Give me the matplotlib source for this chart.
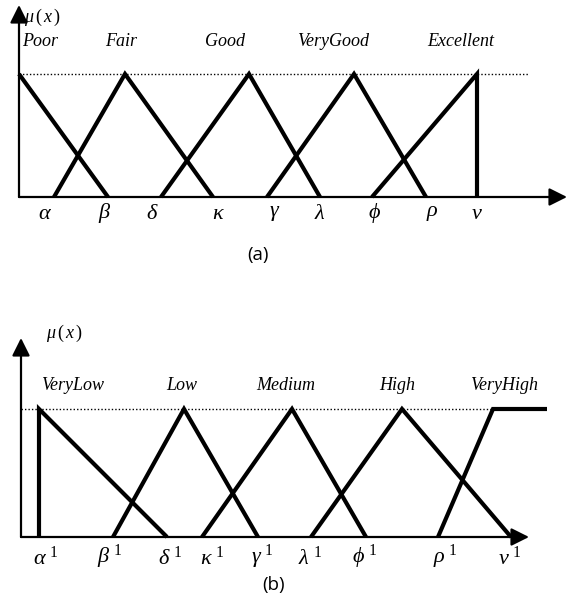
import matplotlib
matplotlib.use("Agg")
import matplotlib.pyplot as plt

plt.rcParams['mathtext.fontset'] = 'custom'
plt.rcParams['mathtext.rm'] = 'Liberation Serif'
plt.rcParams['mathtext.it'] = 'Liberation Serif:italic'
plt.rcParams['mathtext.bf'] = 'Liberation Serif:bold'

# ---------------- Panel (a) data ----------------
a_points = [r'\alpha', r'\beta', r'\delta', r'\kappa', r'\gamma',
            r'\lambda', r'\phi', r'\rho', r'\nu']
a_values = [35, 89, 142, 194, 248, 301, 353, 407, 458]
a_terms = ['Poor', 'Fair', 'Good', 'VeryGood', 'Excellent']
# membership functions: list of (x, mu) vertices
a_poor_x = [0, 89];            a_poor_y = [1, 0]
a_fair_x = [35, 106, 194];     a_fair_y = [0, 1, 0]
a_good_x = [142, 230, 301];    a_good_y = [0, 1, 0]
a_vgood_x = [248, 335, 407];   a_vgood_y = [0, 1, 0]
a_exc_x = [353, 458, 458];     a_exc_y = [0, 1, 0]

# ---------------- Panel (b) data ----------------
b_points = [r'\alpha', r'\beta', r'\delta', r'\kappa', r'\gamma',
            r'\lambda', r'\phi', r'\rho', r'\nu']
b_values = [18, 92, 146, 181, 237, 290, 345, 417, 490]
b_terms = ['VeryLow', 'Low', 'Medium', 'High', 'VeryHigh']
b_vlow_x = [18, 18, 146];      b_vlow_y = [0, 1, 0]
b_low_x = [92, 163, 237];      b_low_y = [0, 1, 0]
b_med_x = [181, 271, 345];     b_med_y = [0, 1, 0]
b_high_x = [290, 381, 490];    b_high_y = [0, 1, 0]
b_vhigh_x = [417, 472, 526];   b_vhigh_y = [0, 1, 1]

W, H = 568, 602
fig = plt.figure(figsize=(W / 100, H / 100), dpi=100)

LW = 3.0
serif = 'Liberation Serif'


def setup_axes(rect, xlim, ylim):
    ax = fig.add_axes(rect)
    ax.set_xlim(*xlim)
    ax.set_ylim(*ylim)
    ax.axis('off')
    return ax


def arrow(ax, start, end):
    ax.annotate('', xy=end, xytext=start,
                arrowprops=dict(arrowstyle='-|>,head_length=0.9,head_width=0.45',
                                mutation_scale=12, lw=1.6, color='black',
                                shrinkA=0, shrinkB=0),
                annotation_clip=False)


# ---------- Panel (a) ----------
# axes covers pixel rows 0..300; origin at (19,197); mu=1 at row 74
sa = 123.0
axa = setup_axes([0, 302 / 602, 1, 300 / 602], (-19, 549),
                 ((197 - 300) / sa, 197 / sa))
arrow(axa, (0, 0), (548, 0))
arrow(axa, (0, 0), (0, (197 - 5) / sa))
axa.plot([0, 509], [1, 1], color='black', lw=1.0, ls=(0, (1, 1.5)))
for xs, ys in [(a_poor_x, a_poor_y), (a_fair_x, a_fair_y),
               (a_good_x, a_good_y), (a_vgood_x, a_vgood_y),
               (a_exc_x, a_exc_y)]:
    axa.plot(xs, ys, color='black', lw=LW, solid_joinstyle='miter',
             solid_capstyle='butt')
a_label_dx = [-9, -3, -9, 5, 8, 0, 3, 6, 0]
for name, v, dx in zip(a_points, a_values, a_label_dx):
    axa.text(v + dx, (197 - 213) / sa, '$' + name + '$', fontsize=16,
             ha='center', va='center')
a_term_x = [21, 102, 206, 314, 442]
for t, x in zip(a_terms, a_term_x):
    axa.text(x, (197 - 42) / sa, t, fontsize=13, family=serif,
             style='italic', ha='center', va='center')
axa.text(23, (197 - 17) / sa, r'$\mu\,(\,x\,)$', fontsize=13,
         ha='center', va='center')
axa.text(239, (197 - 255) / sa, '(a)', fontsize=13.5, family='Open Sans',
         ha='center', va='center')

# ---------- Panel (b) ----------
# axes covers pixel rows 300..602; origin at (21,537); mu=1 at row 409
sb = 128.0
axb = setup_axes([0, 0, 1, 302 / 602], (-21, 547),
                 ((537 - 602) / sb, (537 - 300) / sb))
arrow(axb, (0, 0), (508, 0))
arrow(axb, (0, 0), (0, (537 - 338) / sb))
axb.plot([0, 471], [1, 1], color='black', lw=1.0, ls=(0, (1, 1.5)))
for xs, ys in [(b_vlow_x, b_vlow_y), (b_low_x, b_low_y),
               (b_med_x, b_med_y), (b_high_x, b_high_y),
               (b_vhigh_x, b_vhigh_y)]:
    axb.plot(xs, ys, color='black', lw=LW, solid_joinstyle='miter',
             solid_capstyle='butt')
b_label_dx = [7, -3, 3, 10, 4, -1, -1, 7, -1]
for name, v, dx in zip(b_points, b_values, b_label_dx):
    axb.text(v + dx, (537 - 557) / sb, '$' + name + r'^{\,\,\mathrm{1}}$',
             fontsize=16, ha='center', va='center')
b_term_x = [52, 161, 265, 376, 483]
for t, x in zip(b_terms, b_term_x):
    axb.text(x, (537 - 386) / sb, t, fontsize=13, family=serif,
             style='italic', ha='center', va='center')
axb.text(43, (537 - 333) / sb, r'$\mu\,(\,x\,)$', fontsize=13,
         ha='center', va='center')
axb.text(253, (537 - 585) / sb, '(b)', fontsize=13.5, family='Open Sans',
         ha='center', va='center')

fig.savefig('out.png', dpi=100)
